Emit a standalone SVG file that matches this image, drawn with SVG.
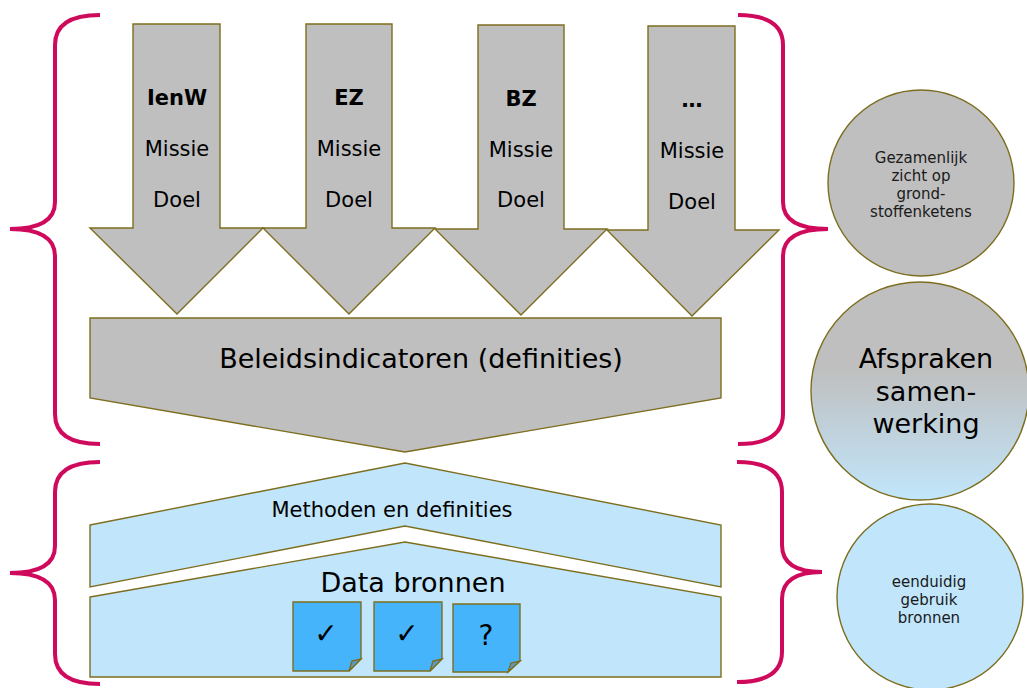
<svg xmlns="http://www.w3.org/2000/svg" width="1027" height="688" viewBox="0 0 1027 688">
<defs>
<style>
.sh{stroke:#7d6e1f;stroke-width:1.4;stroke-linejoin:miter}
.gray{fill:#bfbfbf}
.blue{fill:#c1e6fb}
.doc{fill:#46b4fb}
.fold{fill:#5b9cc4}
.brace{fill:none;stroke:#cf0a5c;stroke-width:4;stroke-linecap:butt}
text{font-family:"DejaVu Sans","Verdana",sans-serif;fill:#000;text-anchor:middle}
.t21{font-size:21px}
.b21{font-size:21px;font-weight:bold}
.t27{font-size:27px}
.t15{font-size:15px;fill:#1a1a1a}
.t28{font-size:28px}
</style>
<linearGradient id="gr" x1="0" y1="0" x2="0" y2="1">
<stop offset="0" stop-color="#bfbfbf"/>
<stop offset="0.4" stop-color="#bfbfbf"/>
<stop offset="1" stop-color="#c1e6fb"/>
</linearGradient>
</defs>
<rect width="1027" height="688" fill="#fff"/>

<g id="braces">
<path class="brace" d="M100,15 Q55,15 55,45 L55,202 Q55,229 10,229 Q55,229 55,256 L55,414 Q55,444 100,444"/>
<path class="brace" d="M738,15 Q783,15 783,45 L783,202 Q783,229 828,229 Q783,229 783,256 L783,414 Q783,444 738,444"/>
<path class="brace" d="M100,462 Q55,462 55,492 L55,546 Q55,573 10,573 Q55,573 55,600 L55,654 Q55,684 100,684"/>
<path class="brace" d="M737,462 Q782,462 782,492 L782,545 Q782,572 822,572 Q782,572 782,599 L782,652 Q782,682 737,682"/>
</g>

<g id="arrow-ienw">
<polygon class="sh gray" points="133,24 220,24 220,228 263,228 177,314 90,228 133,228"/>
<text class="b21" x="177" y="105">IenW</text>
<text class="t21" x="177" y="156">Missie</text>
<text class="t21" x="177" y="207">Doel</text>
</g>
<g id="arrow-ez">
<polygon class="sh gray" points="306,24 392,24 392,228 435,228 349,314 263,228 306,228"/>
<text class="b21" x="349" y="105">EZ</text>
<text class="t21" x="349" y="156">Missie</text>
<text class="t21" x="349" y="207">Doel</text>
</g>
<g id="arrow-bz">
<polygon class="sh gray" points="478,25 564,25 564,229 607,229 521,315 435,229 478,229"/>
<text class="b21" x="521" y="106">BZ</text>
<text class="t21" x="521" y="157">Missie</text>
<text class="t21" x="521" y="207">Doel</text>
</g>
<g id="arrow-more">
<polygon class="sh gray" points="648,26 735,26 735,230 779,230 692,316 607,230 648,230"/>
<text class="b21" x="692" y="107">…</text>
<text class="t21" x="692" y="158">Missie</text>
<text class="t21" x="692" y="209">Doel</text>
</g>

<g id="beleidsindicatoren">
<polygon class="sh gray" points="90,318 721,318 721,398 405,452 90,398"/>
<text class="t27" x="421" y="368">Beleidsindicatoren (definities)</text>
</g>

<g id="methoden">
<polygon class="sh blue" points="90,525 405,463 721,525 721,587 405,526 90,587"/>
<text class="t21" x="392" y="517">Methoden en definities</text>
</g>

<g id="databronnen">
<polygon class="sh blue" points="90,597 405,542 721,597 721,677 90,677"/>
<text class="t27" x="413" y="592">Data bronnen</text>
</g>

<g id="doc1">
<polygon class="sh doc" points="293,602 361,602 361,659 349,671 293,671"/>
<polygon class="sh fold" points="349,671 352,661 361,659"/>
<text class="t28" x="326" y="643">✓</text>
</g>
<g id="doc2">
<polygon class="sh doc" points="374,602 442,602 442,659 430,671 374,671"/>
<polygon class="sh fold" points="430,671 433,661 442,659"/>
<text class="t28" x="407" y="643">✓</text>
</g>
<g id="doc3">
<polygon class="sh doc" points="453,604 520,604 520,661 508,672 453,672"/>
<polygon class="sh fold" points="508,672 511,663 520,661"/>
<text class="t28" x="486" y="645">?</text>
</g>

<g id="circle-gezamenlijk">
<circle class="sh gray" cx="921" cy="183" r="93"/>
<text class="t15" x="921" y="163">Gezamenlijk</text>
<text class="t15" x="921" y="181">zicht op</text>
<text class="t15" x="921" y="199">grond-</text>
<text class="t15" x="921" y="217">stoffenketens</text>
</g>
<g id="circle-afspraken">
<circle class="sh" fill="url(#gr)" cx="920" cy="391" r="109"/>
<text class="t27" x="926" y="368">Afspraken</text>
<text class="t27" x="926" y="401">samen-</text>
<text class="t27" x="926" y="433">werking</text>
</g>
<g id="circle-eenduidig">
<circle class="sh blue" cx="930" cy="597" r="93"/>
<text class="t15" x="929" y="587">eenduidig</text>
<text class="t15" x="929" y="605">gebruik</text>
<text class="t15" x="929" y="623">bronnen</text>
</g>
</svg>
